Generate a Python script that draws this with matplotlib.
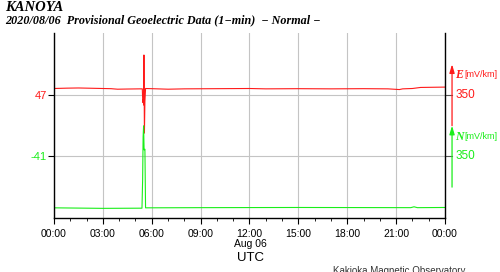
import matplotlib
matplotlib.use("Agg")
import matplotlib.pyplot as plt
import matplotlib.transforms as mtransforms

# hours (UTC) and values in mV/km
t_E = [0, 0.8, 1.5, 2.5, 3.5, 3.9, 4.5, 5.3, 5.42, 5.45, 5.48, 5.50, 5.52, 5.55, 5.58, 5.62,
       6.0, 7.0, 8.0, 10.0, 12.0, 13.0, 15.0, 17.0, 19.0, 20.5, 21.2, 21.4, 22.0, 22.5, 24.0]
E = [84, 86, 87, 85, 83, 80, 81, 82, 82, 5, 20, -10, 275, -170, 10, 84,
     83, 80, 82, 83, 84, 82, 83, 82, 83, 82, 78, 82, 84, 90, 92]

t_N = [0, 3, 5.40, 5.44, 5.47, 5.50, 5.53, 5.58, 5.62, 9, 15, 21.9, 22.1, 22.3, 24]
N = [-334, -337, -336, -175, 70, 133, -4, 0, -334, -333, -332, -333, -328, -333, -332]

E_center = 47
N_center = -41
sep = 350          # vertical spacing between traces (plot units)
scale = 350        # scale arrow length, mV/km

x_ticks = [0, 3, 6, 9, 12, 15, 18, 21, 24]
x_labels = ["00:00", "03:00", "06:00", "09:00", "12:00", "15:00", "18:00", "21:00", "00:00"]

red = "#ff1a1a"
green = "#1aee1a"

plt.rcParams["font.family"] = ["Liberation Sans", "DejaVu Sans"]

fig = plt.figure(figsize=(5, 2.72), dpi=100)
ax = fig.add_axes([0.108, 0.1985, 0.782, 0.680])

ax.plot(t_E, [v - E_center for v in E], color=red, lw=0.8)
ax.plot(t_N, [v - N_center - sep for v in N], color=green, lw=0.8)

ax.set_xlim(0, 24)
ax.set_ylim(-701, 353)
ax.set_xticks(x_ticks)
ax.set_xticklabels(x_labels, fontsize=7.5)
ax.set_xticks(range(0, 25), minor=True)
ax.set_yticks([0, -sep])
ax.set_yticklabels([str(E_center), str(N_center)], fontsize=8)
for lab, c in zip(ax.get_yticklabels(), [red, green]):
    lab.set_color(c)
ax.tick_params(axis="x", which="major", length=4, width=0.8, pad=4)
ax.tick_params(axis="x", which="minor", length=2.5, width=0.6)
ax.tick_params(axis="y", length=4, width=0.8, pad=1)
ax.grid(True, color="#c4c4c4", lw=0.8)
ax.set_axisbelow(True)
ax.spines["top"].set_visible(False)
for s in ["left", "right", "bottom"]:
    ax.spines[s].set_linewidth(1.0)

# scale arrows on the right
tr = mtransforms.blended_transform_factory(ax.transAxes, ax.transData)
xa = 1.018
for y0, c, name in [(0, red, "E"), (-sep, green, "N")]:
    ax.annotate("", xy=(xa, y0 + scale / 2), xytext=(xa, y0 - scale / 2),
                xycoords=tr, textcoords=tr, annotation_clip=False,
                arrowprops=dict(arrowstyle="-|>,head_length=0.5,head_width=0.15",
                                color=c, lw=0.9, shrinkA=0, shrinkB=0))
    ax.plot([1.0, xa], [y0, y0], color="#555555", lw=0.8, transform=tr, clip_on=False)
    ax.text(1.026, y0, str(scale), color=c, fontsize=8.5, va="center", ha="left", transform=tr)
    ax.text(1.026, y0 + 112, name, color=c, fontsize=8.5, va="center", ha="left",
            family="Liberation Serif", style="italic", fontweight="bold", transform=tr)
    ax.text(1.050, y0 + 115, "[mV/km]", color=c, fontsize=6.5, va="center", ha="left", transform=tr)

fig.text(0.01, 1 - 7.5 / 272, "KANOYA", fontsize=10.5, family="Liberation Serif",
         style="italic", fontweight="bold", va="center", ha="left")
fig.text(0.01, 1 - 20 / 272, "2020/08/06  Provisional Geoelectric Data (1\u2212min)  \u2212 Normal \u2212",
         fontsize=8.7, family="Liberation Serif", style="italic", fontweight="bold", va="center", ha="left")
fig.text(250 / 500, 1 - 244 / 272, "Aug 06", fontsize=7.5, ha="center", va="center")
fig.text(250 / 500, 1 - 258 / 272, "UTC", fontsize=9.5, ha="center", va="center")
fig.text(333 / 500, 1 - 266 / 272, "Kakioka Magnetic Observatory", fontsize=7, color="#333333",
         ha="left", va="top")

fig.savefig("out.png", dpi=100)
